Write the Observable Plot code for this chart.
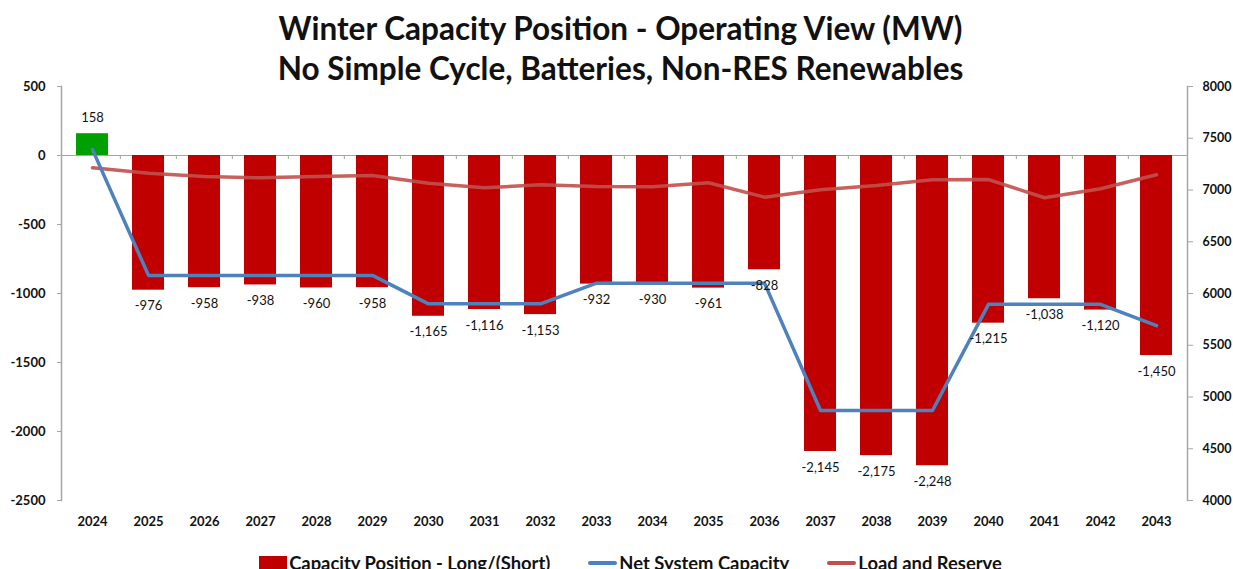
<!DOCTYPE html>
<html>
<head>
<meta charset="utf-8">
<script src="https://cdn.jsdelivr.net/npm/d3@7"></script>
<script src="https://cdn.jsdelivr.net/npm/@observablehq/plot@0.6"></script>
<style>
  html, body { margin: 0; padding: 0; background: #fff; overflow: hidden; }
  body { width: 1233px; height: 569px; font-family: Lato, "Open Sans", sans-serif; }
  #title { height: 78px; overflow: visible; text-align: center; font-weight: bold; font-size: 31.5px; line-height: 40px; color: #111; padding-top: 8px; padding-left: 8px; box-sizing: border-box; white-space: nowrap; }
  #chart { height: 462px; }
  #legend { display: flex; justify-content: center; font-size: 18.4px; font-weight: bold; color: #111; margin-top: 12px; padding-left: 28px; align-items: center; white-space: nowrap; }
  .item { display: flex; align-items: center; gap: 2px; margin: 0 19px; }
  .sw { width: 28px; height: 14px; }
  .ln { width: 29px; height: 4px; border-radius: 2px; }
</style>
</head>
<body>
<div id="title">Winter Capacity Position - Operating View (MW)<br>No Simple Cycle, Batteries, Non-RES Renewables</div>
<div id="chart"></div>
<div id="legend">
  <div class="item"><div class="sw" style="background:#C00000"></div><span>Capacity Position - Long/(Short)</span></div>
  <div class="item"><div class="ln" style="background:#4F81BD"></div><span>Net System Capacity</span></div>
  <div class="item"><div class="ln" style="background:#C0504D"></div><span>Load and Reserve</span></div>
</div>
<script>
const years = ["2024","2025","2026","2027","2028","2029","2030","2031","2032","2033","2034","2035","2036","2037","2038","2039","2040","2041","2042","2043"];
const capacityPosition = [158, -976, -958, -938, -960, -958, -1165, -1116, -1153, -932, -930, -961, -828, -2145, -2175, -2248, -1215, -1038, -1120, -1450];
const netSystemCapacity = [7390, 6175, 6175, 6175, 6175, 6175, 5900, 5900, 5900, 6100, 6100, 6100, 6100, 4870, 4870, 4870, 5895, 5895, 5895, 5690];
const loadAndReserve = [7214, 7162, 7130, 7118, 7130, 7140, 7066, 7021, 7050, 7034, 7031, 7070, 6931, 7002, 7043, 7098, 7101, 6925, 7012, 7147];
const leftTicks = [500, 0, -500, -1000, -1500, -2000, -2500];
const rightTicks = [8000, 7500, 7000, 6500, 6000, 5500, 5000, 4500, 4000];

const leftDomain = [-2500, 500];
const rightDomain = [4000, 8000];
const toLeft = v => (v - rightDomain[0]) / (rightDomain[1] - rightDomain[0]) * (leftDomain[1] - leftDomain[0]) + leftDomain[0];
const toRight = v => (v - leftDomain[0]) / (leftDomain[1] - leftDomain[0]) * (rightDomain[1] - rightDomain[0]) + rightDomain[0];

const fmt = d3.formatLocale({decimal: ".", thousands: ",", grouping: [3], currency: ["$", ""], minus: "-"}).format(",");

const bars = years.map((y, i) => ({year: y, value: capacityPosition[i]}));
const net = years.map((y, i) => ({year: y, value: toLeft(netSystemCapacity[i])}));
const load = years.map((y, i) => ({year: y, value: toLeft(loadAndReserve[i])}));

const W = 1233, mL = 61, mR = 46, H = 462, mT = 8, mB = 40;
const step = (W - mL - mR) / years.length;
const tickLen = 4 / ((H - mT - mB) / (leftDomain[1] - leftDomain[0]));

const chart = Plot.plot({
  width: W, height: H,
  marginLeft: mL, marginRight: mR, marginTop: mT, marginBottom: mB,
  style: {fontFamily: "Lato, sans-serif", fontSize: "13px", color: "#111", background: "#fff", overflow: "visible"},
  x: {domain: years, paddingInner: 0.42, paddingOuter: 0.21, axis: null},
  y: {domain: leftDomain, axis: null},
  marks: [
    Plot.ruleY([0], {stroke: "#a6a6a6", strokeWidth: 1.2}),
    Plot.ruleX(years.slice(1), {x: d => d, dx: -step / 2, y1: 0, y2: -tickLen, stroke: "#a6a6a6"}),
    Plot.barY(bars, {x: "year", y: "value", fill: d => d.value >= 0 ? "#00A000" : "#C00000"}),
    Plot.line(load, {x: "year", y: "value", stroke: "#C0504D", strokeWidth: 3.5, strokeOpacity: 0.9}),
    Plot.line(net, {x: "year", y: "value", stroke: "#4F81BD", strokeWidth: 3.5}),
    Plot.text(bars.filter(d => d.value < 0), {x: "year", y: "value", text: d => fmt(d.value), dy: 16, fill: "#111", fontSize: 13, lineAnchor: "middle"}),
    Plot.text(bars.filter(d => d.value >= 0), {x: "year", y: "value", text: d => fmt(d.value), dy: -16, fill: "#111", fontSize: 13, lineAnchor: "middle"}),
    Plot.frame({anchor: "left", stroke: "#a6a6a6", strokeWidth: 1.5}),
    Plot.frame({anchor: "right", stroke: "#a6a6a6", strokeWidth: 1.5}),
    Plot.axisY(leftTicks, {anchor: "left", label: null, tickSize: 4, tickPadding: 12, stroke: "#a6a6a6", fontWeight: "bold", fontSize: 13, tickFormat: d => String(d)}),
    Plot.axisY(rightTicks.map(toLeft), {anchor: "right", label: null, tickSize: 5, tickPadding: 10, stroke: "#a6a6a6", fontWeight: "bold", fontSize: 12.5, tickFormat: d => String(Math.round(toRight(d)))}),
    Plot.axisX(years, {anchor: "bottom", label: null, tickSize: 0, tickPadding: 16, fontWeight: "bold", fontSize: 13})
  ]
});
document.getElementById("chart").appendChild(chart);
</script>
</body>
</html>
